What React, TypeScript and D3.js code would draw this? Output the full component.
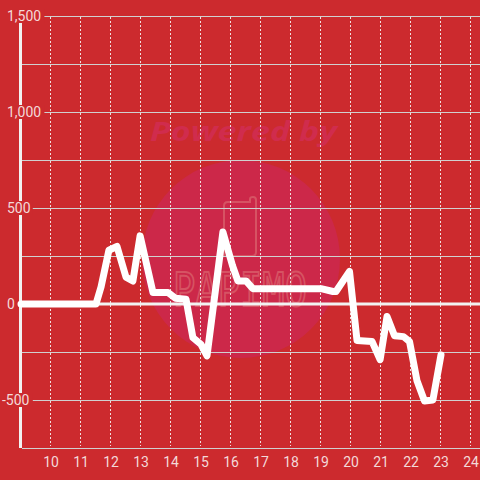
import React from "react";
import * as d3 from "d3";

const hours: number[] = [9.0, 11.5, 11.67, 11.93, 12.2, 12.5, 12.73, 12.97, 13.4, 13.9, 14.15, 14.5, 14.73, 15.0, 15.2, 15.73, 16.05, 16.23, 16.5, 16.73, 19.0, 19.4, 19.5, 19.95, 20.2, 20.7, 20.97, 21.2, 21.45, 21.75, 21.95, 22.2, 22.45, 22.73, 23.0];
const values: number[] = [0, 0, 90, 280, 300, 140, 120, 355, 60, 60, 30, 25, -175, -210, -270, 375, 200, 120, 120, 80, 80, 65, 65, 170, -190, -195, -290, -65, -165, -170, -195, -400, -505, -500, -265];

const xTicks: number[] = [10, 11, 12, 13, 14, 15, 16, 17, 18, 19, 20, 21, 22, 23, 24];
const yGrid: number[] = [-750, -500, -250, 0, 250, 500, 750, 1000, 1250, 1500];
const yLabels: number[] = [-500, 0, 500, 1000, 1500];

const W = 480;
const H = 480;
const BG = "#cc2a2e";
const LABEL = "#f3d9d9";
const GRID = "#d0d0d0";

export default function App() {
  const x = d3.scaleLinear().domain([9, 25]).range([21, 501]);
  const y = d3.scaleLinear().domain([-750, 1500]).range([448, 16]);
  const fmt = d3.format(",");
  const data = hours.map((h, i) => [h, values[i]] as [number, number]);
  const line = d3
    .line<[number, number]>()
    .x((d) => x(d[0]))
    .y((d) => y(d[1]));

  const left = x(9);
  const bottom = y(-750);
  const top = y(1500);

  return (
    <svg
      width={W}
      height={H}
      style={{ position: "fixed", left: 0, top: 0, display: "block" }}
      fontFamily="Roboto, 'Liberation Sans', sans-serif"
    >
      <rect x={0} y={0} width={W} height={H} fill={BG} />
      {/* watermark */}
      <circle cx={241} cy={259} r={99} fill="#cc2849" />
      <text
        x={150}
        y={141}
        textLength={187}
        lengthAdjust="spacingAndGlyphs"
        fontSize={26}
        fontWeight="bold"
        fontStyle="italic"
        fill="#d02c4d"
        fontFamily="'Open Sans', Roboto, sans-serif"
      >
        Powered by
      </text>
      <path
        d="M224,256 L224,206 Q224,202 228,202 L250,202 L250,199 Q250,197 253,197 Q256,197 256,200 L256,252 Q256,256 252,256 Z"
        fill="none"
        stroke="#d65363"
        strokeWidth={2}
      />
      <text
        x={173}
        y={306}
        textLength={134}
        lengthAdjust="spacingAndGlyphs"
        fontSize={46}
        fill="none"
        stroke="#d65363"
        strokeWidth={2}
        fontFamily="'DejaVu Sans Mono', monospace"
      >
        PAPIMO
      </text>

      {/* horizontal grid */}
      {yGrid
        .filter((v) => v !== 0)
        .map((v) => (
          <line key={"h" + v} x1={left + 1} x2={W} y1={y(v) + 0.5} y2={y(v) + 0.5} stroke={GRID} strokeWidth={1} />
        ))}
      {/* vertical dotted grid */}
      {xTicks.map((t) => (
        <line
          key={"v" + t}
          x1={Math.round(x(t)) - 0.5}
          x2={Math.round(x(t)) - 0.5}
          y1={top + 1}
          y2={bottom - 2}
          stroke="#f0e0e0"
          strokeWidth={1}
          strokeDasharray="2,2"
        />
      ))}
      {/* zero line */}
      <line x1={left} x2={W} y1={y(0)} y2={y(0)} stroke="#f2f2f2" strokeWidth={3} />
      {/* y axis line */}
      <line x1={left - 0.5} x2={left - 0.5} y1={top} y2={bottom} stroke="#f2f2f2" strokeWidth={3} />

      {/* y labels with background boxes */}
      {yLabels.map((v) => {
        const s = v < 0 ? "-" + fmt(-v) : fmt(v);
        const tx = v < 0 ? 2 : 7;
        const digits = fmt(Math.abs(v)).length;
        const wEst = (v < 0 ? 5 : 0) + digits * 7.6 + (Math.abs(v) >= 1000 ? -3.6 : 0);
        return (
          <g key={"yl" + v}>
            <rect x={tx - 1} y={y(v) - 7} width={wEst + 4} height={14} fill={BG} />
            <text x={tx} y={y(v) + 5} fontSize={14} fill={LABEL}>
              {s}
            </text>
          </g>
        );
      })}

      {/* x axis line */}
      <line x1={left + 1} x2={W} y1={bottom + 0.5} y2={bottom + 0.5} stroke={GRID} strokeWidth={1} />
      {/* x labels */}
      {xTicks.map((t) => (
        <text key={"xl" + t} x={x(t)} y={467} textAnchor="middle" fontSize={14} fill={LABEL}>
          {t}
        </text>
      ))}

      {/* data line */}
      <path
        d={line(data) || ""}
        fill="none"
        stroke="#ffffff"
        strokeWidth={7}
        strokeLinejoin="round"
        strokeLinecap="round"
      />
    </svg>
  );
}
